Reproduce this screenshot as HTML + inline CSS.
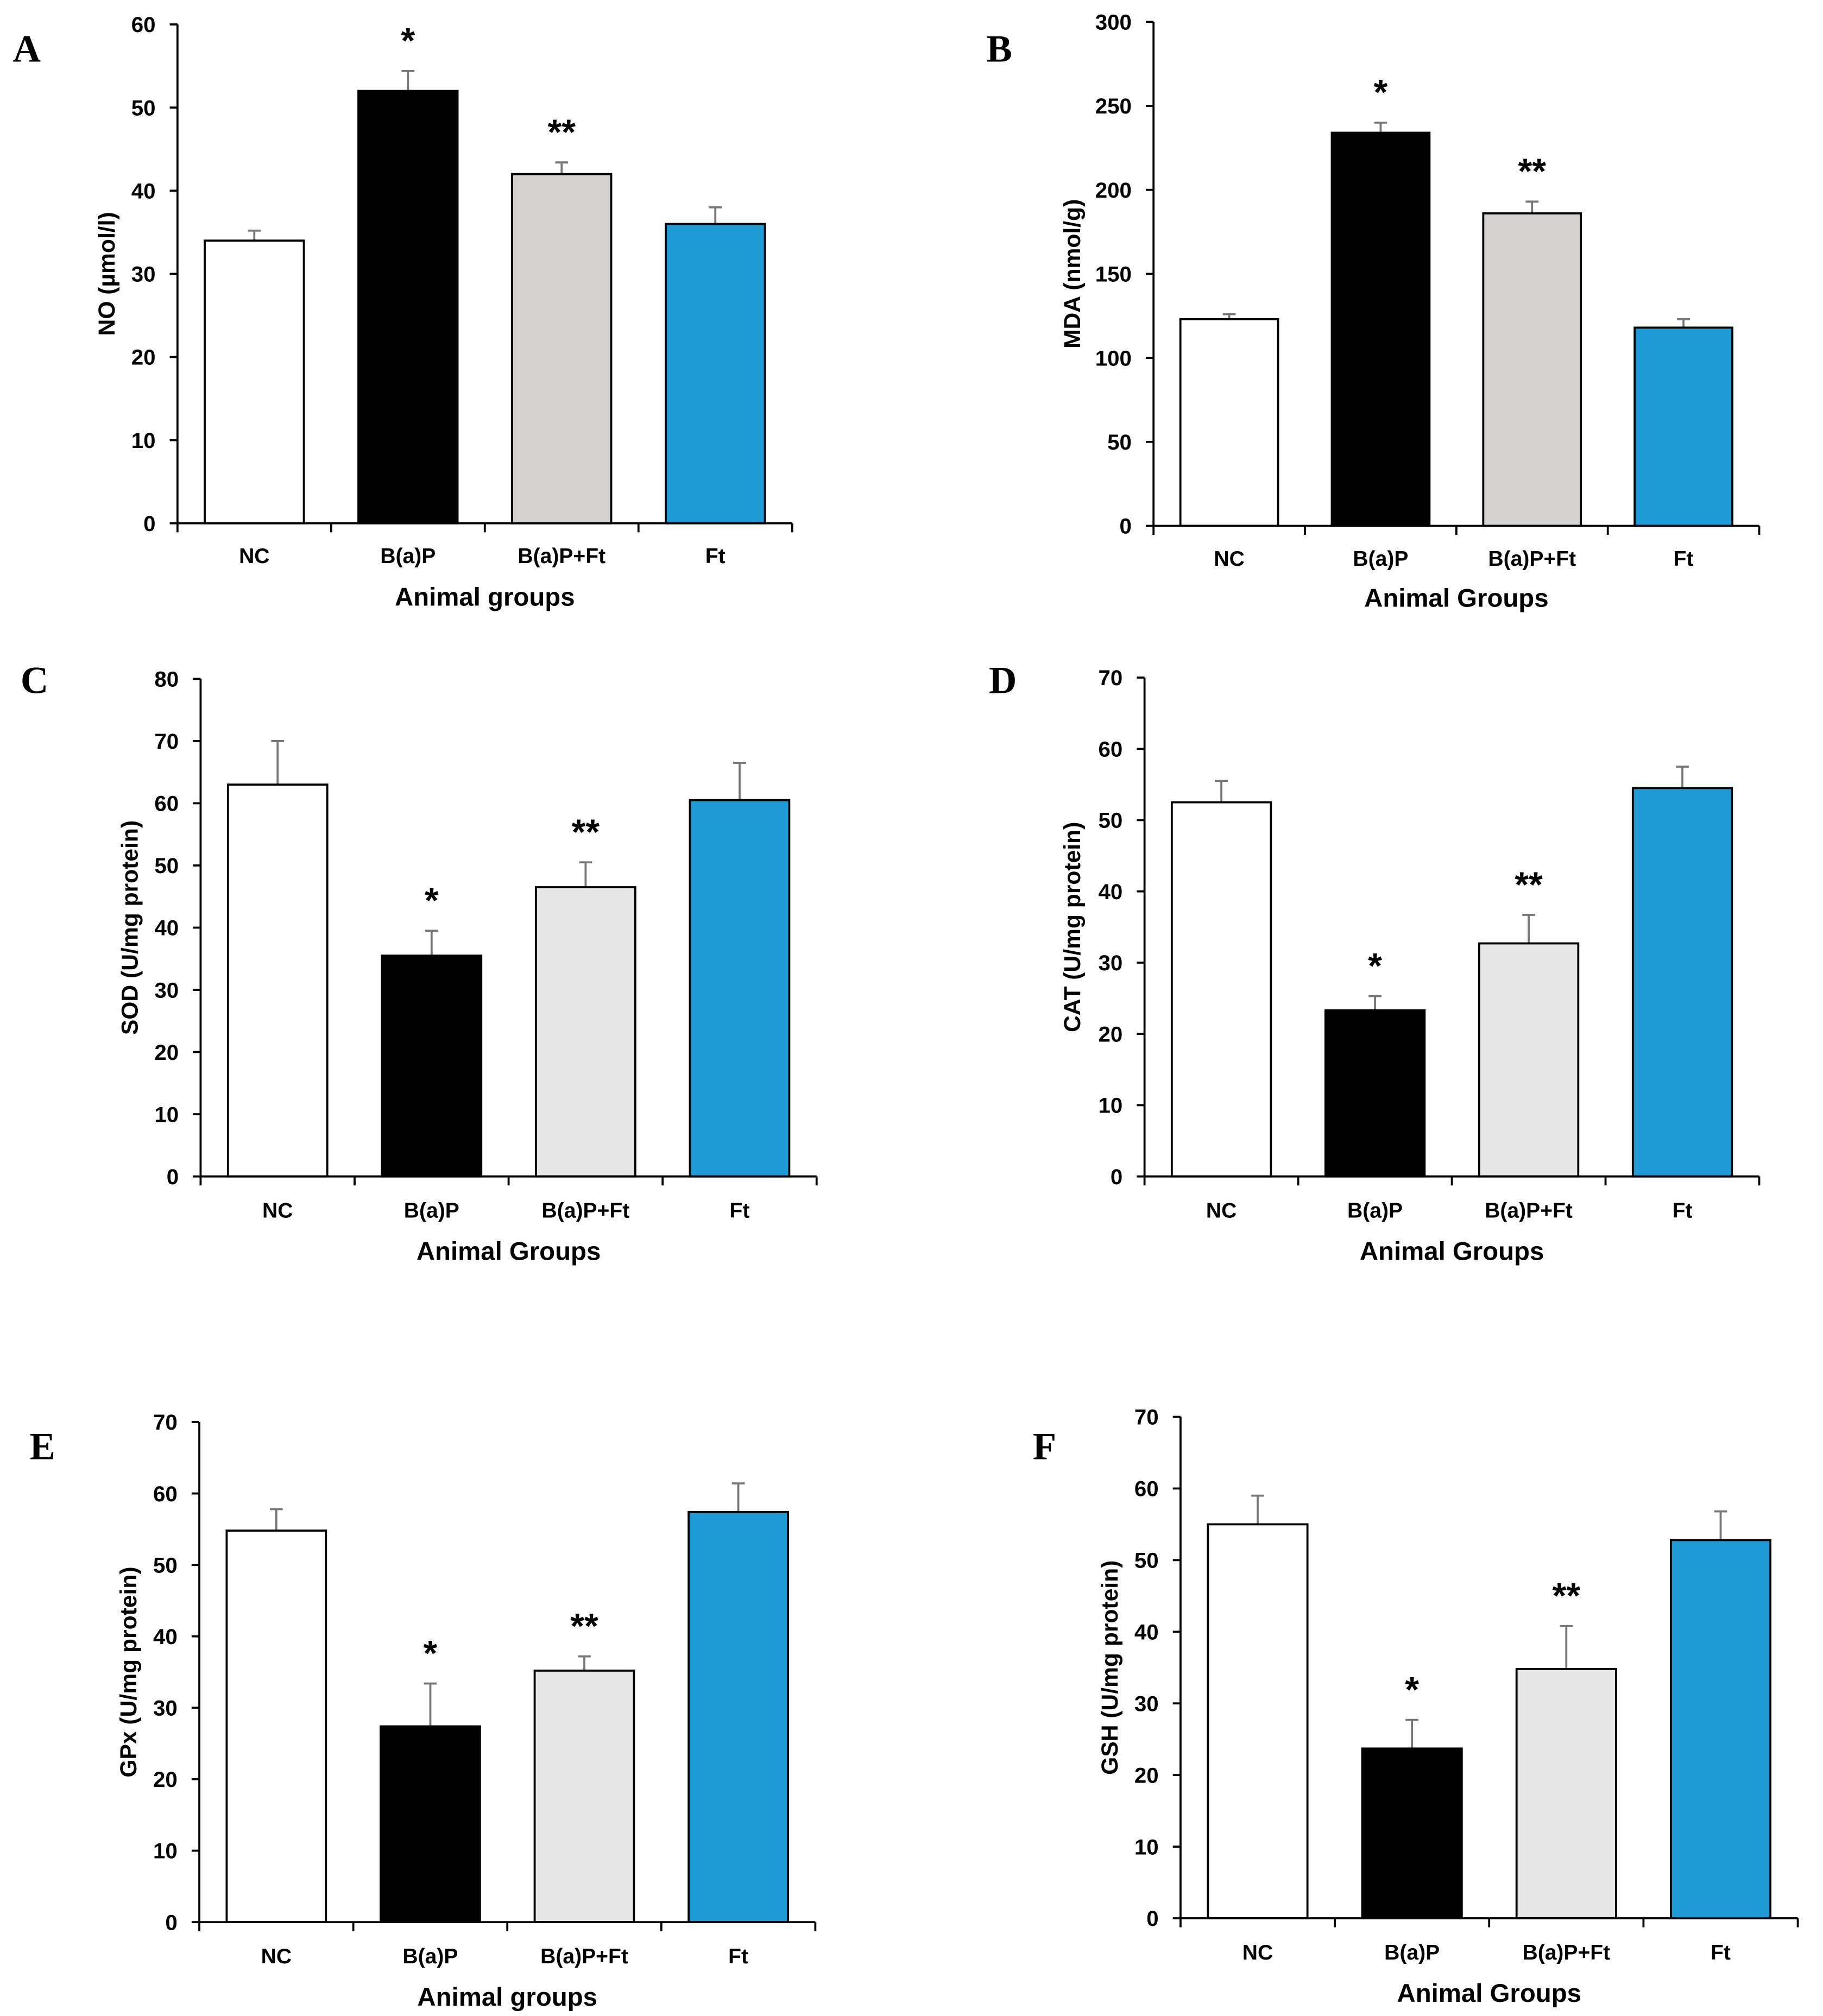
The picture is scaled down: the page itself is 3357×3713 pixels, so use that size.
<!DOCTYPE html>
<html><head><meta charset="utf-8">
<style>
html,body{margin:0;padding:0;background:#fff;}
svg{display:block;}
text{font-family:"Liberation Sans Narrow","Liberation Sans",sans-serif;font-weight:bold;fill:#000;}
.lbl{font-family:"Liberation Serif",serif;font-weight:bold;}
</style></head>
<body>
<svg id="fig" width="3357" height="3713" viewBox="0 0 1417.6 1568" preserveAspectRatio="none" xmlns="http://www.w3.org/2000/svg"></svg>
<script>
const categories = ["NC","B(a)P","B(a)P+Ft","Ft"];
const valuesA = [34, 52, 42, 36];
const errorsA = [1.2, 2.4, 1.4, 2.0];
const valuesB = [123, 234, 186, 118];
const errorsB = [3, 6, 7, 5];
const valuesC = [63, 35.5, 46.5, 60.5];
const errorsC = [7, 4, 4, 6];
const valuesD = [52.5, 23.3, 32.7, 54.5];
const errorsD = [3, 2, 4, 3];
const valuesE = [54.8, 27.4, 35.2, 57.4];
const errorsE = [3, 6, 2, 4];
const valuesF = [55, 23.7, 34.8, 52.8];
const errorsF = [4, 4, 6, 4];
const stars = ["", "*", "**", ""];
const ticksA = [0,10,20,30,40,50,60];
const ticksB = [0,50,100,150,200,250,300];
const ticksC = [0,10,20,30,40,50,60,70,80];
const ticks70 = [0,10,20,30,40,50,60,70];

const NS="http://www.w3.org/2000/svg";
const svg=document.getElementById('fig');
function mk(tag,attrs,parent,txt){const e=document.createElementNS(NS,tag);for(const k in attrs)e.setAttribute(k,attrs[k]);if(txt!==undefined)e.textContent=txt;parent.appendChild(e);return e;}

const panels=[
 {id:'a',letter:'A',lx:10,ly:48,x0:138,x1:616,yt:19,yb:407,ticks:ticksA,vals:valuesA,errs:errorsA,ytitle:'NO (\u00b5mol/l)',ytx:82,xl:432,xt:464,xtitle:'Animal groups',grey:'#d3d2d1'},
 {id:'b',letter:'B',lx:767,ly:48,x0:897,x1:1368,yt:17,yb:409,ticks:ticksB,vals:valuesB,errs:errorsB,ytitle:'MDA (nmol/g)',ytx:833,xl:434,xt:465,xtitle:'Animal Groups',grey:'#d3d2d1'},
 {id:'c',letter:'C',lx:16,ly:539,x0:156,x1:635,yt:528,yb:915,ticks:ticksC,vals:valuesC,errs:errorsC,ytitle:'SOD (U/mg protein)',ytx:100,xl:941,xt:973,xtitle:'Animal Groups',grey:'#e6e6e6'},
 {id:'d',letter:'D',lx:769,ly:539,x0:890,x1:1368,yt:527,yb:915,ticks:ticks70,vals:valuesD,errs:errorsD,ytitle:'CAT (U/mg protein)',ytx:833,xl:941,xt:973,xtitle:'Animal Groups',grey:'#e6e6e6'},
 {id:'e',letter:'E',lx:23,ly:1135,x0:155,x1:634,yt:1106,yb:1495,ticks:ticks70,vals:valuesE,errs:errorsE,ytitle:'GPx (U/mg protein)',ytx:99,xl:1521,xt:1553,xtitle:'Animal groups',grey:'#e6e6e6'},
 {id:'f',letter:'F',lx:803,ly:1135,x0:918,x1:1398,yt:1102,yb:1492,ticks:ticks70,vals:valuesF,errs:errorsF,ytitle:'GSH (U/mg protein)',ytx:862,xl:1518,xt:1550,xtitle:'Animal Groups',grey:'#e6e6e6'}
];

panels.forEach(p=>{
 const g=mk('g',{},svg);
 
 
 const ymax=p.ticks[p.ticks.length-1];
 const y=v=>p.yb-(v/ymax)*(p.yb-p.yt);
 const cw=(p.x1-p.x0)/categories.length;
 const bw=cw*0.645;
 const colors=['#ffffff','#000000',p.grey,'#1e9bd7'];
 const t=mk('text',{x:p.lx,y:p.ly,'font-size':30,class:'lbl'},g,p.letter);
 
 
 p.vals.forEach((v,i)=>{
  const cx=p.x0+cw*(i+0.5);
  const eTop=y(v+p.errs[i]);
  const el=mk('line',{x1:cx,x2:cx,y1:y(v),y2:eTop,stroke:'#777','stroke-width':1.6},g);
  
  
  const ec=mk('line',{x1:cx-5,x2:cx+5,y1:eTop,y2:eTop,stroke:'#777','stroke-width':1.6},g);
  
  
  const r=mk('rect',{x:cx-bw/2,y:y(v),width:bw,height:p.yb-y(v),fill:colors[i],stroke:'#000','stroke-width':1.6},g);
  
  
  if(stars[i]){
   const s=mk('text',{x:cx,y:eTop-14,'font-size':28,'text-anchor':'middle',style:'font-family:"Liberation Sans",sans-serif'},g,stars[i]);
   
   
  }
  const xl=mk('text',{x:cx,y:p.xl+6,'font-size':16.5,'text-anchor':'middle'},g,categories[i]);
  
  
 });
 const ya=mk('line',{x1:p.x0,x2:p.x0,y1:p.yt,y2:p.yb,stroke:'#000','stroke-width':1.6},g);
 
 
 const xa=mk('line',{x1:p.x0,x2:p.x1,y1:p.yb,y2:p.yb,stroke:'#000','stroke-width':1.6},g);
 
 
 for(let i=0;i<=categories.length;i++){
  const xx=p.x0+cw*i;
  const tk=mk('line',{x1:xx,x2:xx,y1:p.yb,y2:p.yb+7,stroke:'#000','stroke-width':1.6},g);
  
  
 }
 p.ticks.forEach(v=>{
  const tk=mk('line',{x1:p.x0-6,x2:p.x0,y1:y(v),y2:y(v),stroke:'#000','stroke-width':1.6},g);
  
  
  const tl=mk('text',{x:p.x0-17,y:y(v)+6,'font-size':17,'text-anchor':'end'},g,String(v));
  
  
 });
 const cy=(p.yt+p.yb)/2;
 const yt=mk('text',{x:0,y:0,'font-size':18,'text-anchor':'middle',transform:`translate(${p.ytx+7},${cy}) rotate(-90)`,style:'font-family:"Liberation Sans",sans-serif'},g,p.ytitle);
 
 
 const xt=mk('text',{x:(p.x0+p.x1)/2,y:p.xt+7,'font-size':20,'text-anchor':'middle'},g,p.xtitle);
 
 
});
</script>
</body></html>
